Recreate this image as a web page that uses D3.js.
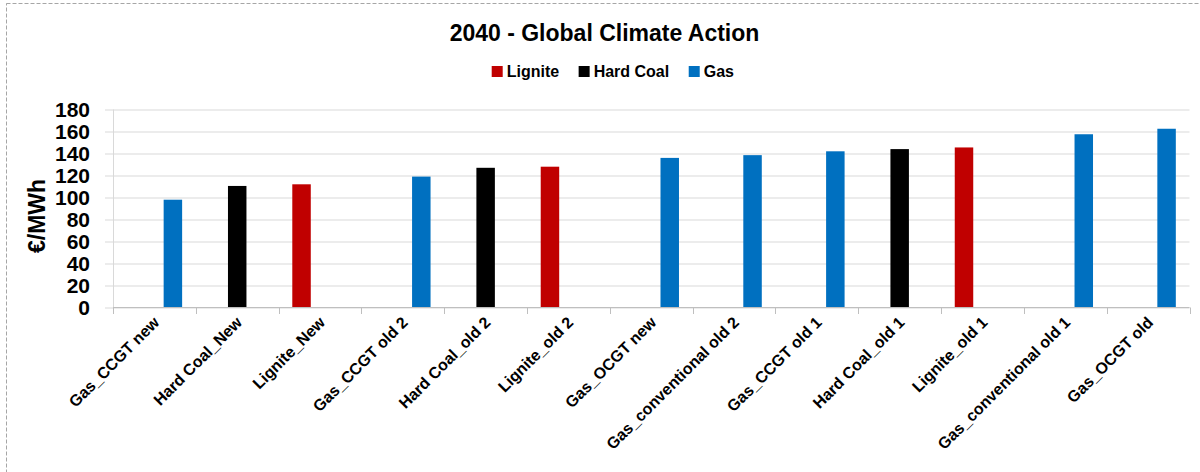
<!DOCTYPE html>
<html>
<head>
<meta charset="utf-8">
<script src="https://cdn.jsdelivr.net/npm/d3@7"></script>
<style>
  html, body { margin: 0; padding: 0; background: #fff; }
  svg { display: block; }
  text { font-family: "Liberation Sans", Arial, sans-serif; font-weight: bold; fill: #000; }
</style>
</head>
<body>
<svg id="chart" width="1200" height="472"></svg>
<script>
// ---- data ----
const title = "2040 - Global Climate Action";
const yTitle = "€/MWh";
const seriesNames = ["Lignite", "Hard Coal", "Gas"];
const seriesColors = ["#C00000", "#000000", "#0070C0"];
const categories = [
  "Gas_CCGT new", "Hard Coal_New", "Lignite_New", "Gas_CCGT old 2",
  "Hard Coal_old 2", "Lignite_old 2", "Gas_OCGT new", "Gas_conventional old 2",
  "Gas_CCGT old 1", "Hard Coal_old 1", "Lignite_old 1", "Gas_conventional old 1",
  "Gas_OCGT old"
];
const categorySeries = [
  "Gas", "Hard Coal", "Lignite", "Gas",
  "Hard Coal", "Lignite", "Gas", "Gas",
  "Gas", "Hard Coal", "Lignite", "Gas",
  "Gas"
];
const values = [98, 110.5, 112, 119, 127, 128, 136, 138.5, 142, 144, 145.5, 157.5, 162.5];
const yTicks = [0, 20, 40, 60, 80, 100, 120, 140, 160, 180];

// ---- layout ----
const svg = d3.select("#chart");
const plot = { left: 113, right: 1189.5, top: 109.5, bottom: 307.5 };

// outer dashed frame
svg.append("rect")
  .attr("x", 6.5).attr("y", 3.5).attr("width", 1210).attr("height", 480)
  .attr("fill", "none").attr("stroke", "#a6a6a6").attr("stroke-width", 1)
  .attr("stroke-dasharray", "4,2");

const x = d3.scaleBand().domain(categories).range([plot.left, plot.right]).padding(0);
const xs = d3.scaleBand().domain(seriesNames).range([0, x.bandwidth()])
  .paddingInner(0).paddingOuter(0.74);
const y = d3.scaleLinear().domain([0, 180]).range([plot.bottom, plot.top]);
const color = d3.scaleOrdinal().domain(seriesNames).range(seriesColors);

// gridlines + y ticks
const yAxis = d3.axisLeft(y).tickValues(yTicks)
  .tickSize(8 + (plot.right - plot.left)).tickPadding(15).tickFormat(d3.format("d"));
const gy = svg.append("g")
  .attr("transform", `translate(${plot.right},0)`)
  .call(yAxis);
gy.select(".domain").remove();
gy.selectAll(".tick line").attr("stroke", "#d9d9d9").attr("stroke-width", 1);
gy.selectAll(".tick text")
  .attr("x", -(plot.right - plot.left) - 23)
  .style("font-size", "21px").style("font-weight", "bold")
  .style("font-family", '"Liberation Sans", Arial, sans-serif').attr("fill", "#000");

// y axis line
svg.append("line")
  .attr("x1", plot.left + 0.5).attr("x2", plot.left + 0.5)
  .attr("y1", plot.top).attr("y2", plot.bottom)
  .attr("stroke", "#d9d9d9");

// bars
svg.append("g").selectAll("rect")
  .data(categories.map((c, i) => ({ c, s: categorySeries[i], v: values[i] })))
  .join("rect")
  .attr("x", d => x(d.c) + xs(d.s))
  .attr("width", xs.bandwidth())
  .attr("y", d => y(d.v))
  .attr("height", d => y(0) - y(d.v))
  .attr("fill", d => color(d.s));

// x axis
const boundaries = categories.map(c => x(c)).concat([plot.right]);
const gx = svg.append("g");
gx.append("line")
  .attr("x1", plot.left).attr("x2", plot.right)
  .attr("y1", plot.bottom).attr("y2", plot.bottom)
  .attr("stroke", "#bfbfbf");
gx.selectAll("line.tk").data(boundaries).join("line").attr("class", "tk")
  .attr("x1", d => Math.round(d) + 0.5).attr("x2", d => Math.round(d) + 0.5)
  .attr("y1", plot.bottom).attr("y2", plot.bottom + 6.5)
  .attr("stroke", "#bfbfbf");
gx.selectAll("text").data(categories).join("text")
  .attr("transform", d => `translate(${x(d) + x.bandwidth() / 2 + 2},${plot.bottom + 12}) rotate(-45)`)
  .attr("text-anchor", "end")
  .attr("dy", "0.35em")
  .style("font-size", "16px")
  .text(d => d);

// y title
svg.append("text")
  .attr("transform", "translate(45,216) rotate(-90)")
  .attr("text-anchor", "middle")
  .style("font-size", "23px")
  .text(yTitle);

// title
svg.append("text")
  .attr("x", 604.5).attr("y", 40.5)
  .attr("text-anchor", "middle")
  .style("font-size", "23px")
  .text(title);

// legend
const lg = svg.append("g");
let lx = 491.7;
seriesNames.forEach((s, i) => {
  lg.append("rect").attr("x", lx).attr("y", 66).attr("width", 11).attr("height", 11)
    .attr("fill", seriesColors[i]);
  const t = lg.append("text").attr("x", lx + 15).attr("y", 77)
    .style("font-size", "16px").text(s);
  lx += 15 + t.node().getComputedTextLength() + 19.5;
});
</script>
</body>
</html>
